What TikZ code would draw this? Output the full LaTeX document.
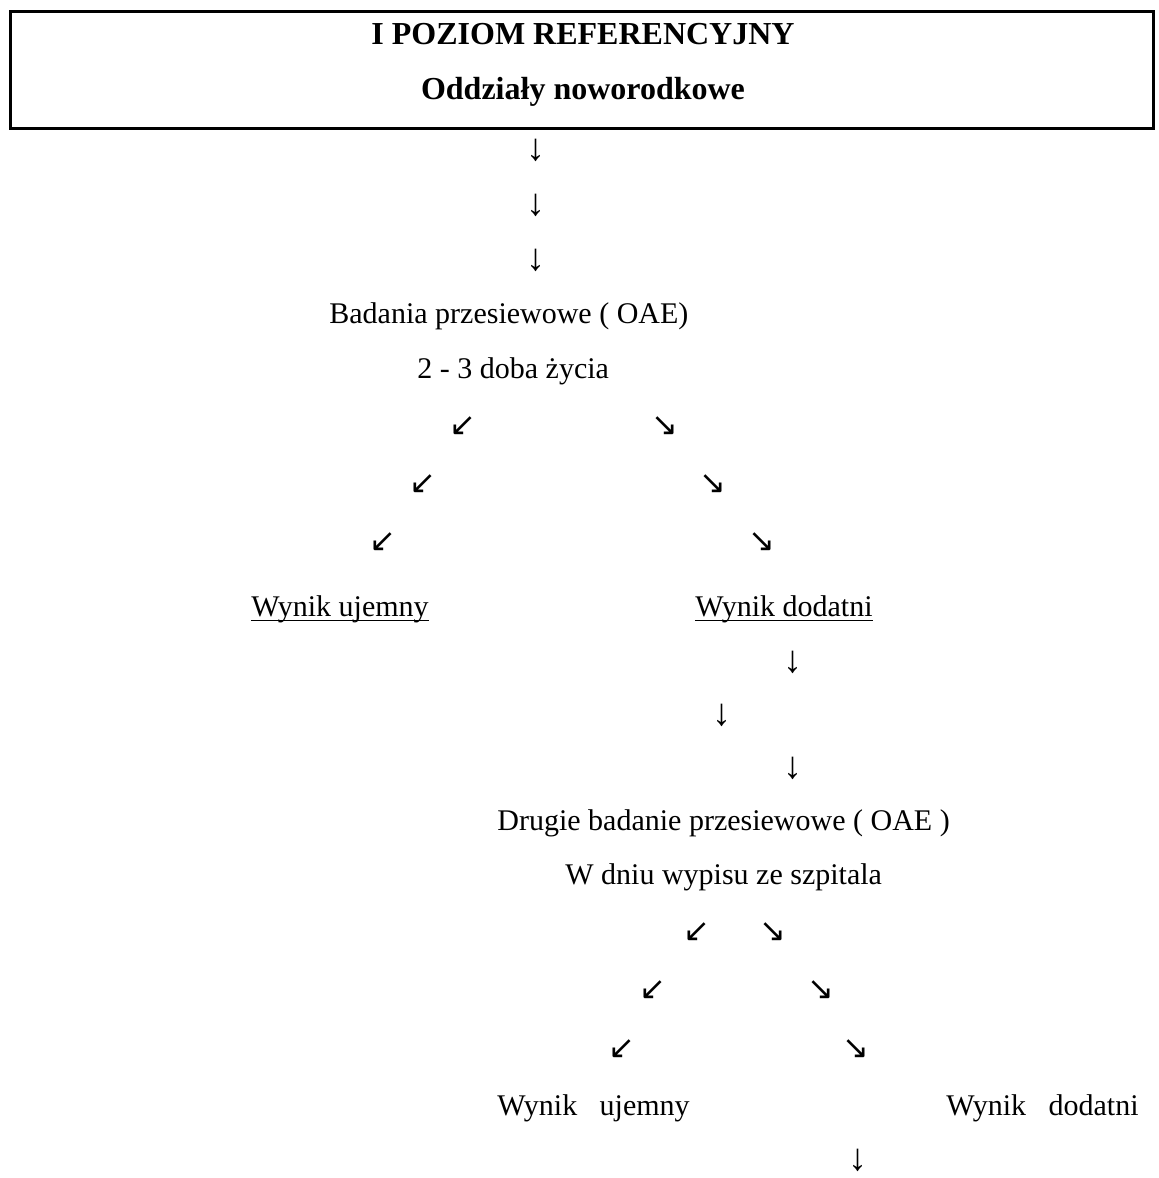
\documentclass[tikz,border=0pt]{standalone}
\usepackage{fontspec}
\setmainfont{Liberation Serif}
\newfontfamily\diagfont{DejaVu Sans}
\usepackage{tikz}
\usetikzlibrary{positioning}
\tikzset{txt/.style = {inner sep=0pt, anchor=base, font=\fontsize{15}{18}\selectfont},
         head/.style = {inner sep=0pt, anchor=base, font=\fontsize{16}{19}\selectfont\bfseries},
         down/.style = {inner sep=0pt, font=\fontsize{19}{22}\selectfont},
         diag/.style = {inner sep=0pt, font=\diagfont\fontsize{16}{18}\selectfont}}

\begin{document}
\begin{tikzpicture} [x=0.5pt, y=-0.5pt]
\useasboundingbox (0,0) rectangle (1159,1178);
\draw[black, line width=1.5pt] (10,11) rectangle (1153,128);
\node[head] (title) at (583,44) {I POZIOM REFERENCYJNY};
\node[head] (ward) at (583,99) {Oddziały noworodkowe};
\foreach \y [count=\i] in {150,205,260} {
 \node[down] (d\i) at (536,\y) {↓};
}
\node[txt, anchor=base west] (screen) at (329,323) {Badania przesiewowe ( OAE)};
\node[txt, anchor=base west] (day) at (417,378) {2 - 3 doba życia};
\foreach \x/\y [count=\i] in {463/426, 423/484, 383/542} {
 \node[diag] (sw\i) at (\x,\y) {↙};
}
\foreach \x/\y [count=\i] in {665/426, 713/484, 762/542} {
 \node[diag] (se\i) at (\x,\y) {↘};
}
\node[txt] (neg) at (340,616) {Wynik ujemny};
\node[txt] (pos) at (784,616) {Wynik dodatni};
\draw[line width=0.9pt] ([yshift=-2.2pt]neg.base west) -- ([yshift=-2.2pt]neg.base east);
\draw[line width=0.9pt] ([yshift=-2.2pt]pos.base west) -- ([yshift=-2.2pt]pos.base east);
\foreach \x/\y [count=\i] in {793/662, 722/715, 793/768} {
 \node[down] (e\i) at (\x,\y) {↓};
}
\node[txt, anchor=base west] (second) at (497,830) {Drugie badanie przesiewowe ( OAE )};
\node[txt, anchor=base west] (exit) at (565,884) {W dniu wypisu ze szpitala};
\foreach \x/\y [count=\i] in {697/932, 653/990, 622/1049} {
 \node[diag] (tsw\i) at (\x,\y) {↙};
}
\foreach \x/\y [count=\i] in {773/932, 821/990, 856/1049} {
 \node[diag] (tse\i) at (\x,\y) {↘};
}
\node[txt, anchor=base west] (neg2) at (497,1115) {Wynik\ \ \ ujemny};
\node[txt, anchor=base east] (pos2) at (1139,1115) {Wynik\ \ \ dodatni};
\node[down] (f1) at (858,1160) {↓};
\end{tikzpicture}
\end{document}
